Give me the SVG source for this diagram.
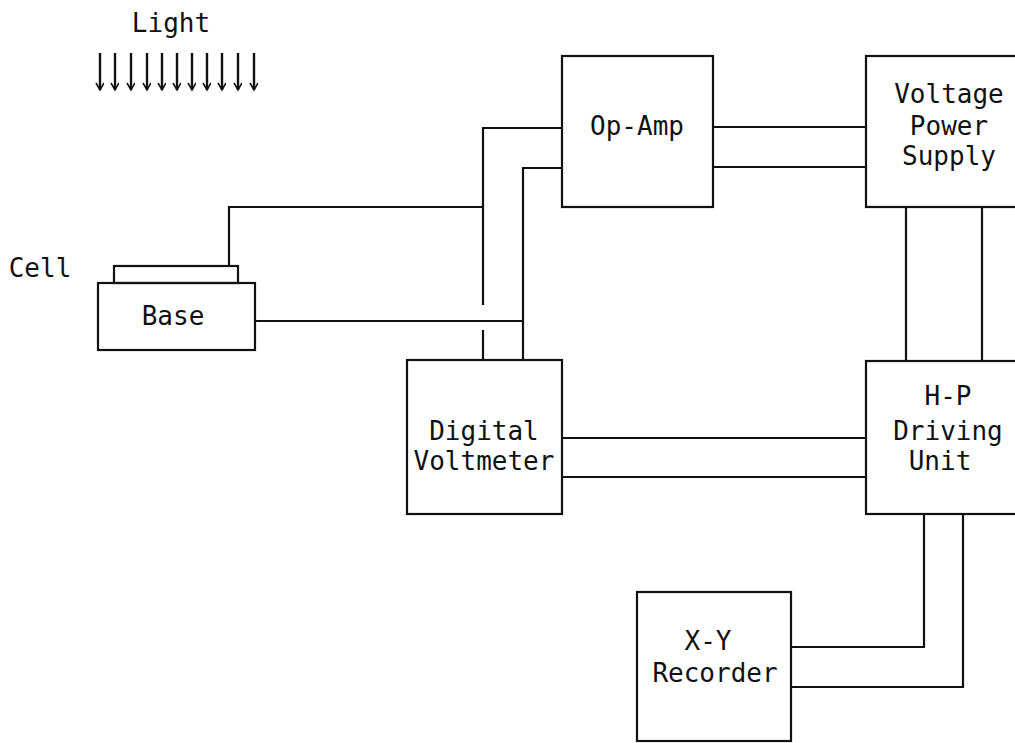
<svg xmlns="http://www.w3.org/2000/svg" width="1015" height="743" viewBox="0 0 1015 743">
<style>
.box{fill:none;stroke:#111;stroke-width:2.2}
.w{fill:none;stroke:#111;stroke-width:2.2}
.t{font-family:"DejaVu Sans Mono","Liberation Mono",monospace;font-size:26px;fill:#111;text-anchor:middle}
.ar{stroke:#111;stroke-width:2.4;marker-end:url(#ah)}
</style>
<defs>
<marker id="ah" markerWidth="10" markerHeight="10" refX="8" refY="4" orient="auto" markerUnits="userSpaceOnUse">
<path d="M1,0 L8,4 L1,8" fill="none" stroke="#111" stroke-width="1.6"/>
</marker>
</defs>
<rect width="1015" height="743" fill="#fff"/>
<g id="light">
<text class="t" x="171" y="32">Light</text>
<line class="ar" x1="100" y1="53" x2="100" y2="90"/>
<line class="ar" x1="115" y1="53" x2="115" y2="90"/>
<line class="ar" x1="131" y1="53" x2="131" y2="90"/>
<line class="ar" x1="147" y1="53" x2="147" y2="90"/>
<line class="ar" x1="162" y1="53" x2="162" y2="90"/>
<line class="ar" x1="177" y1="53" x2="177" y2="90"/>
<line class="ar" x1="192" y1="53" x2="192" y2="90"/>
<line class="ar" x1="207" y1="53" x2="207" y2="90"/>
<line class="ar" x1="222" y1="53" x2="222" y2="90"/>
<line class="ar" x1="238" y1="53" x2="238" y2="90"/>
<line class="ar" x1="254" y1="53" x2="254" y2="90"/>
</g>
<g id="cell">
<text class="t" x="40" y="277">Cell</text>
<rect class="box" x="114" y="266" width="124" height="17"/>
</g>
<g id="base">
<rect class="box" x="98" y="283" width="157" height="67"/>
<text class="t" x="173" y="325">Base</text>
</g>
<g id="opamp">
<rect class="box" x="562" y="56" width="151" height="151"/>
<text class="t" x="637" y="135">Op-Amp</text>
</g>
<g id="vps">
<rect class="box" x="866" y="56" width="170" height="151"/>
<text class="t" x="949" y="103">Voltage</text>
<text class="t" x="949" y="135">Power</text>
<text class="t" x="949" y="165">Supply</text>
</g>
<g id="dvm">
<rect class="box" x="407" y="360" width="155" height="154"/>
<text class="t" x="484" y="440">Digital</text>
<text class="t" x="484" y="470">Voltmeter</text>
</g>
<g id="hp">
<rect class="box" x="866" y="361" width="170" height="153"/>
<text class="t" x="948" y="405">H-P</text>
<text class="t" x="948" y="440">Driving</text>
<text class="t" x="940" y="470">Unit</text>
</g>
<g id="xy">
<rect class="box" x="637" y="592" width="154" height="149"/>
<text class="t" x="708" y="650">X-Y</text>
<text class="t" x="715" y="682">Recorder</text>
</g>
<g id="connectors">
<polyline class="w" points="229,266 229,207 483,207"/>
<polyline class="w" points="562,128 483,128 483,305"/>
<line class="w" x1="483" y1="330" x2="483" y2="360"/>
<polyline class="w" points="562,168 523,168 523,360"/>
<line class="w" x1="255" y1="321" x2="523" y2="321"/>
<line class="w" x1="713" y1="127" x2="866" y2="127"/>
<line class="w" x1="713" y1="167" x2="866" y2="167"/>
<line class="w" x1="906" y1="207" x2="906" y2="361"/>
<line class="w" x1="982" y1="207" x2="982" y2="361"/>
<line class="w" x1="562" y1="438" x2="866" y2="438"/>
<line class="w" x1="562" y1="477" x2="866" y2="477"/>
<polyline class="w" points="924,514 924,647 791,647"/>
<polyline class="w" points="963,514 963,687 791,687"/>
</g>
</svg>
